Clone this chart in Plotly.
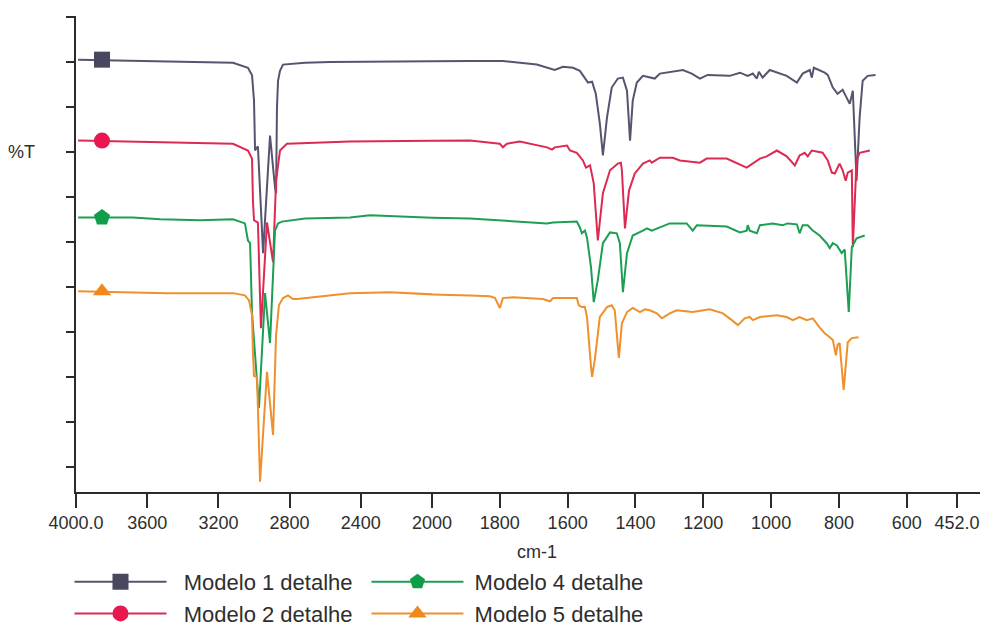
import plotly.graph_objects as go

# ---------------- data (wavenumber cm-1, %T arbitrary offset units) ----------------
wn_m1 = [3988, 3118, 3034, 3011, 3000, 2994, 2989, 2978, 2949, 2910, 2882, 2876, 2871, 2865,
         2854, 2837, 2713, 2573, 1888, 1791, 1691, 1646, 1638, 1614, 1584, 1564, 1549, 1540,
         1528, 1517, 1505, 1496, 1484, 1470, 1452, 1437, 1425, 1416, 1408, 1396, 1378, 1352,
         1343, 1328, 1290, 1260, 1234, 1210, 1187, 1122, 1092, 1069, 1054, 1042, 1036, 1025,
         1004, 954, 924, 907, 886, 880, 874, 842, 833, 818, 804, 789, 777, 768, 759, 748,
         739, 730, 715, 692]
t_m1 = [90.5, 89.8, 88.7, 87.0, 81.4, 70.3, 70.7, 71.2, 47.5, 73.6, 62.1, 60.8, 79.8, 85.8,
        88.0, 89.4, 89.8, 90.0, 90.2, 90.2, 89.4, 88.5, 88.2, 88.9, 88.7, 88.0, 86.3, 85.4,
        85.6, 82.9, 76.3, 69.2, 77.6, 84.3, 86.3, 86.5, 83.6, 72.5, 81.4, 85.4, 86.9, 86.5,
        86.3, 87.4, 87.8, 88.2, 87.4, 86.3, 87.1, 86.9, 87.6, 86.9, 87.4, 86.3, 87.8, 86.5,
        88.2, 86.9, 85.4, 87.4, 88.2, 86.5, 88.7, 87.6, 87.1, 84.3, 82.9, 83.8, 82.0, 80.7,
        83.6, 63.6, 77.6, 85.8, 86.9, 87.1]

wn_m2 = [3988, 3118, 3034, 3011, 3006, 3000, 2978, 2961, 2927, 2893, 2876, 2854, 2815, 2461,
         1888, 1800, 1791, 1779, 1741, 1661, 1646, 1638, 1602, 1593, 1573, 1555, 1546, 1534,
         1523, 1511, 1496, 1475, 1452, 1443, 1440, 1431, 1419, 1402, 1378, 1358, 1352, 1328,
         1290, 1269, 1210, 1190, 1131, 1072, 1033, 1013, 983, 954, 930, 916, 901, 892, 880,
         848, 833, 821, 812, 798, 789, 780, 774, 762, 759, 748, 739, 709]
t_m2 = [72.5, 71.8, 70.3, 68.5, 59.2, 54.8, 54.3, 30.8, 54.3, 45.5, 63.6, 70.3, 71.8, 72.3,
        72.5, 71.8, 71.0, 71.8, 72.3, 71.0, 70.5, 71.0, 71.4, 70.3, 69.8, 68.1, 66.5, 67.0,
        63.0, 50.3, 60.8, 65.9, 67.4, 67.6, 65.9, 53.0, 61.4, 65.2, 67.4, 68.1, 67.6, 68.7,
        68.7, 68.1, 67.6, 68.5, 68.5, 66.5, 68.5, 69.0, 70.3, 69.0, 67.0, 69.2, 69.8, 69.0, 70.3,
        69.8, 68.1, 65.4, 65.2, 67.4, 65.9, 63.6, 65.4, 65.9, 48.8, 68.1, 69.8, 70.3]

wn_m4 = [3988, 3680, 3528, 3303, 3118, 3051, 3034, 3022, 3011, 2972, 2938, 2910, 2882, 2865,
         2843, 2713, 2461, 2348, 1888, 1791, 1691, 1661, 1643, 1573, 1564, 1558, 1549, 1543,
         1531, 1523, 1511, 1496, 1475, 1455, 1446, 1437, 1425, 1408, 1378, 1366, 1352, 1337,
         1299, 1249, 1231, 1219, 1131, 1092, 1072, 1069, 1063, 1042, 1033, 995, 966, 951, 924,
         916, 907, 892, 877, 857, 836, 827, 818, 806, 792, 783, 771, 762, 748, 724]
t_m4 = [55.4, 55.4, 55.0, 54.8, 55.0, 54.1, 50.3, 49.7, 34.1, 13.1, 38.6, 27.5, 52.5, 54.1,
        54.5, 55.2, 55.4, 55.9, 55.2, 54.8, 54.3, 54.1, 54.3, 54.5, 53.2, 51.9, 52.5, 51.0,
        44.3, 36.6, 41.5, 49.7, 52.1, 51.9, 49.7, 38.8, 47.5, 51.4, 52.5, 53.0, 52.5, 53.0,
        54.1, 54.1, 52.5, 53.7, 53.4, 52.1, 52.5, 53.7, 52.5, 51.9, 53.7, 54.1, 53.7, 54.1, 53.9,
        51.9, 53.7, 53.7, 52.5, 51.4, 49.7, 48.6, 49.7, 49.2, 47.5, 48.3, 34.4, 48.8, 50.8, 51.4]

wn_m5 = [3988, 3489, 3118, 3051, 3028, 3011, 3006, 3000, 2983, 2966, 2927, 2893, 2876, 2860,
         2837, 2809, 2781, 2758, 2461, 2236, 1888, 1829, 1814, 1800, 1791, 1761, 1673, 1652,
         1643, 1573, 1567, 1558, 1549, 1543, 1531, 1528, 1520, 1505, 1484, 1470, 1461, 1449,
         1440, 1425, 1408, 1387, 1372, 1358, 1337, 1322, 1307, 1299, 1278, 1231, 1181, 1142,
         1116, 1098, 1078, 1063, 1054, 1033, 983, 954, 936, 916, 895, 877, 857, 842, 827, 818,
         809, 804, 798, 786, 774, 762, 742]
t_m5 = [39.0, 38.6, 38.6, 38.1, 37.0, 33.7, 25.5, 20.2, 20.0, -3.3, 21.1, 7.1, 29.3, 35.9,
        37.5, 38.1, 37.3, 37.3, 38.6, 38.8, 38.1, 37.9, 37.5, 35.3, 37.5, 37.7, 37.3, 36.8,
        37.5, 37.5, 35.9, 35.5, 35.5, 33.3, 22.2, 20.0, 23.7, 33.3, 35.5, 35.9, 34.8, 24.2,
        31.9, 34.4, 35.3, 34.4, 35.0, 34.8, 34.1, 33.0, 33.7, 34.1, 34.8, 34.4, 35.0, 34.1,
        32.6, 31.5, 33.0, 33.3, 32.6, 33.3, 33.7, 33.3, 32.6, 33.3, 32.6, 33.0, 31.0, 29.7, 28.8, 28.2,
        24.8, 27.1, 27.5, 17.1, 27.7, 28.6, 28.8]

names = ["Modelo 1 detalhe", "Modelo 2 detalhe", "Modelo 4 detalhe", "Modelo 5 detalhe"]
marker_wn = 3854
marker_t = [90.5, 72.5, 55.4, 39.0]

ticks_hi = [4000, 3600, 3200, 2800, 2400]
ticklabels_hi = ["4000.0", "3600", "3200", "2800", "2400"]
ticks_lo = [2000, 1800, 1600, 1400, 1200, 1000, 800, 600, 452]
ticklabels_lo = ["2000", "1800", "1600", "1400", "1200", "1000", "800", "600", "452.0"]

# ---------------- styling ----------------
line_colors = ["#55556f", "#dc2a52", "#1c9f52", "#f0902c"]
marker_colors = ["#47475f", "#e8174f", "#0f9d4a", "#f2871c"]
symbols = ["square", "circle", "pentagon", "triangle-up"]
msizes = [16, 16, 17, 16]
legends = ["legend", "legend", "legend2", "legend2"]
name_pad = ["\u00a0\u00a0", "\u00a0\u00a0", "\u00a0", "\u00a0"]
series = [(wn_m1, t_m1), (wn_m2, t_m2), (wn_m4, t_m4), (wn_m5, t_m5)]

FONT = "Liberation Sans, Arial, sans-serif"
fig = go.Figure()

for i, (wn, t) in enumerate(series):
    for xa in ["x", "x2"]:
        fig.add_trace(go.Scatter(x=wn, y=t, mode="lines", xaxis=xa, yaxis="y",
                                 line=dict(color=line_colors[i], width=2),
                                 showlegend=False, hoverinfo="skip"))

for i in range(4):
    fig.add_trace(go.Scatter(x=[marker_wn], y=[marker_t[i]], mode="lines+markers",
                             xaxis="x", yaxis="y", name=name_pad[i] + names[i],
                             legend=legends[i],
                             line=dict(color=line_colors[i], width=2),
                             marker=dict(symbol=symbols[i], size=msizes[i],
                                         color=marker_colors[i])))

split = (432 - 76) / 904.0
axis_common = dict(showline=True, linecolor="#2b2b2b", linewidth=1.5, ticks="outside",
                   ticklen=14, tickwidth=1.5, tickcolor="#2b2b2b", showgrid=False,
                   zeroline=False, tickfont=dict(family=FONT, size=18, color="#2e2e2e"))

legend_common = dict(yanchor="top", xanchor="left", orientation="v", itemwidth=92,
                     font=dict(family=FONT, size=22, color="#2e2e2e"),
                     bgcolor="rgba(0,0,0,0)", tracegroupgap=0)

fig.update_layout(
    width=993, height=627,
    margin=dict(l=76, r=13, t=16, b=135, autoexpand=False),
    paper_bgcolor="white", plot_bgcolor="white",
    font=dict(family=FONT, color="#2e2e2e"),
    xaxis=dict(domain=[0, split], range=[4000, 2000], tickmode="array",
               tickvals=ticks_hi, ticktext=ticklabels_hi, **axis_common),
    xaxis2=dict(domain=[split, 1], range=[2000, 384], anchor="y", tickmode="array",
                tickvals=ticks_lo, ticktext=ticklabels_lo, **axis_common),
    yaxis=dict(range=[-5.6, 100.2], anchor="x", showline=True, linecolor="#2b2b2b",
               linewidth=1.5, ticks="outside", ticklen=8, tickwidth=1.5,
               tickcolor="#2b2b2b", tickmode="array", tickvals=list(range(0, 101, 10)),
               showticklabels=False, showgrid=False, zeroline=False),
    legend=dict(x=-0.0072, y=-0.145, **legend_common),
    legend2=dict(x=0.3213, y=-0.145, **legend_common),
    annotations=[
        dict(text="%T", xref="paper", x=0, xanchor="right", xshift=-39, yref="y", y=70,
             yanchor="middle", showarrow=False, font=dict(family=FONT, size=18, color="#2e2e2e")),
        dict(text="cm-1", xref="paper", x=0.51, xanchor="center", yref="paper", y=0,
             yanchor="middle", yshift=-60, showarrow=False,
             font=dict(family=FONT, size=18, color="#2e2e2e")),
    ],
)

fig.write_html("out.html", config={"displayModeBar": False},
               post_script="document.body.style.margin='0';document.body.style.overflow='hidden';")
